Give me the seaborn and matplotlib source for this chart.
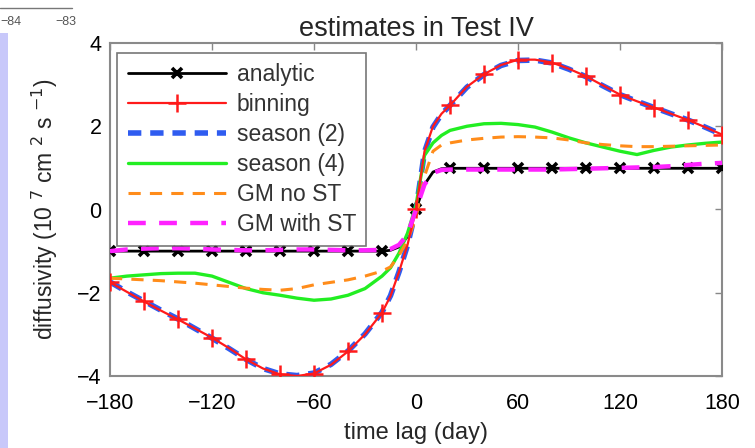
import numpy as np
import pandas as pd
import matplotlib
matplotlib.use("Agg")
import matplotlib.pyplot as plt
import seaborn as sns
from matplotlib.patches import Rectangle
from matplotlib.lines import Line2D

# ---------------- data ----------------
lag = [-180, -170, -160, -150, -140, -130, -120, -110, -100, -90, -80, -70, -60,
       -50, -40, -30, -20, -15, -10, -5, 0, 5, 10, 15, 20, 30, 40, 50, 60, 70,
       80, 90, 100, 110, 120, 130, 140, 150, 160, 170, 180]

analytic = [-1.0, -1.0, -1.0, -1.0, -1.0, -1.0, -1.0, -1.0, -1.0, -1.0, -1.0, -1.0, -1.0,
            -1.0, -1.0, -1.0, -1.0, -0.98, -0.9, -0.65, 0.0, 0.6, 0.9, 0.98, 0.99, 0.99,
            0.99, 0.99, 0.99, 0.99, 0.99, 0.99, 0.99, 0.99, 0.99, 0.99, 0.99, 0.99, 0.99,
            0.99, 0.99]

binning = [-1.75, -1.98, -2.21, -2.43, -2.64, -2.86, -3.08, -3.33, -3.6, -3.82, -3.96,
           -4.0, -3.94, -3.73, -3.41, -3.0, -2.48, -2.08, -1.5, -0.85, 0.0, 1.4, 2.0,
           2.3, 2.5, 2.95, 3.25, 3.47, 3.6, 3.6, 3.53, 3.38, 3.2, 2.98, 2.76, 2.6,
           2.45, 2.3, 2.15, 1.98, 1.8]

season2 = [-1.74, -1.98, -2.2, -2.42, -2.63, -2.86, -3.09, -3.34, -3.6, -3.82, -3.95,
           -3.99, -3.93, -3.72, -3.4, -2.99, -2.47, -2.07, -1.5, -0.86, 0.0, 1.38,
           1.98, 2.29, 2.5, 2.94, 3.24, 3.46, 3.58, 3.59, 3.52, 3.37, 3.19, 2.97,
           2.76, 2.6, 2.45, 2.3, 2.15, 1.98, 1.8]

season4 = [-1.65, -1.6, -1.57, -1.54, -1.53, -1.53, -1.6, -1.75, -1.9, -2.0, -2.06,
           -2.13, -2.18, -2.15, -2.06, -1.9, -1.6, -1.4, -1.05, -0.57, 0.1, 1.3, 1.6,
           1.78, 1.9, 2.0, 2.06, 2.07, 2.04, 1.98, 1.86, 1.72, 1.6, 1.5, 1.4, 1.32,
           1.42, 1.5, 1.55, 1.59, 1.62]

gm_no_st = [-1.65, -1.67, -1.69, -1.71, -1.74, -1.77, -1.81, -1.85, -1.89, -1.92,
            -1.94, -1.9, -1.81, -1.75, -1.69, -1.6, -1.48, -1.38, -1.1, -0.75, -0.2,
            0.8, 1.4, 1.55, 1.6, 1.67, 1.71, 1.74, 1.75, 1.74, 1.72, 1.67, 1.6, 1.56,
            1.53, 1.51, 1.51, 1.52, 1.53, 1.54, 1.55]

gm_with_st = [-1.0, -0.96, -0.94, -0.93, -0.93, -0.94, -0.96, -0.97, -0.98, -0.98,
              -0.97, -0.96, -0.96, -0.97, -0.98, -0.98, -0.97, -0.95, -0.85, -0.6,
              0.0, 0.6, 0.88, 0.95, 0.96, 0.96, 0.96, 0.96, 0.96, 0.96, 0.96, 0.97,
              0.98, 0.99, 1.0, 1.01, 1.02, 1.04, 1.07, 1.1, 1.12]

xticks = [-180, -120, -60, 0, 60, 120, 180]
yticks = [-4, -2, 0, 2, 4]
labels = ["analytic", "binning", "season (2)", "season (4)", "GM no ST", "GM with ST"]

# ---------------- figure ----------------
sns.set_style("white")
plt.rcParams["font.family"] = ["Liberation Sans", "DejaVu Sans"]
plt.rcParams["axes.unicode_minus"] = True

fig = plt.figure(figsize=(7.55, 4.48), dpi=100)
ax = fig.add_axes([110 / 755, 1 - 376 / 448, 612 / 755, 333 / 448])

df = pd.DataFrame({"lag": lag, "analytic": analytic, "binning": binning,
                   "season2": season2, "season4": season4,
                   "gm_no_st": gm_no_st, "gm_with_st": gm_with_st})
mk20 = [i for i, d in enumerate(lag) if d % 20 == 0]

styles = {
    "analytic": dict(color="black", lw=2.0, ls="-", z=3,
                     marker="x", ms=7, mew=2.6),
    "season2": dict(color="#2f5cf0", lw=4.0, ls=(0, (2.4, 1.6)), z=3),
    "binning": dict(color="#ff1a1a", lw=1.6, ls="-", z=4,
                    marker="+", ms=13, mew=1.8),
    "season4": dict(color="#22ee22", lw=2.4, ls="-", z=3),
    "gm_no_st": dict(color="#ff8c1a", lw=2.2, ls=(0, (4, 3)), z=3),
    "gm_with_st": dict(color="#ff22ff", lw=3.2, ls=(0, (4, 3)), z=4),
}

for col, st in styles.items():
    sns.lineplot(data=df, x="lag", y=col, ax=ax, color=st["color"], lw=st["lw"],
                 zorder=st["z"])
    line = ax.lines[-1]
    line.set_linestyle(st["ls"])
    if "marker" in st:
        line.set_marker(st["marker"])
        line.set_markersize(st["ms"])
        line.set_markeredgewidth(st["mew"])
        line.set_markeredgecolor(st["color"])
        line.set_markevery(mk20)

ax.set_xlim(-180, 180)
ax.set_ylim(-4, 4)
ax.set_xticks(xticks)
ax.set_yticks(yticks)
ax.tick_params(direction="in", length=5, width=1, color="#888888", top=True,
               right=True, labelsize=15.5, labelcolor="black")
ax.tick_params(axis="x", pad=12)
ax.tick_params(axis="y", pad=6)
for s in ax.spines.values():
    s.set_color("#8a8a8a")
    s.set_linewidth(1.5)
    s.set_visible(True)

ax.set_title("estimates in Test IV", fontsize=19.5, pad=5)
ax.set_xlabel("time lag (day)", fontsize=17, labelpad=6)
ax.set_ylabel(r"diffusivity (10 $^{7}$ cm $^{2}$ s $^{-1}$)", fontsize=16.5)
ax.yaxis.set_label_coords(-0.082, 0.5)

handles = []
for col in ["analytic", "binning", "season2", "season4", "gm_no_st", "gm_with_st"]:
    st = styles[col]
    h = Line2D([], [], color=st["color"], lw=st["lw"], linestyle=st["ls"])
    if "marker" in st:
        h.set_marker(st["marker"])
        h.set_markersize(st["ms"])
        h.set_markeredgewidth(st["mew"])
    handles.append(h)

leg = ax.legend(handles, labels, loc="upper left", bbox_to_anchor=(0.012, 0.97),
                fontsize=16.5, numpoints=1, handlelength=4.3, handletextpad=0.45,
                labelspacing=0.3, borderpad=0.45, frameon=True, fancybox=False,
                borderaxespad=0)
leg.get_frame().set_edgecolor("#555555")
leg.get_frame().set_linewidth(1.2)
for t in leg.get_texts():
    t.set_color("#333333")

# cropping remnants of neighbouring panels
fig.patches.append(Rectangle((0, 0), 8 / 755, 415 / 448, transform=fig.transFigure,
                             facecolor="#c8c8fa", edgecolor="none"))
fig.text(0 / 755, 1 - 25 / 448, "\u221284", fontsize=9, color="#555555")
fig.text(55 / 755, 1 - 25 / 448, "\u221283", fontsize=9, color="#555555")
fig.lines.append(Line2D([0, 72 / 755], [1 - 8 / 448, 1 - 8 / 448],
                        transform=fig.transFigure, color="#777777", lw=1))

fig.savefig("out.png", dpi=100)
